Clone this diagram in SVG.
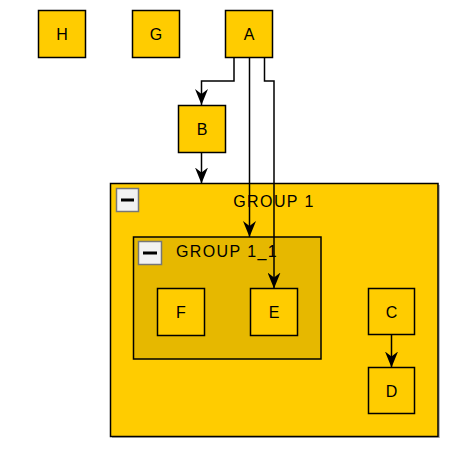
<svg xmlns="http://www.w3.org/2000/svg" width="454" height="453" viewBox="0 0 454 453">
<defs>
<style>
.n{fill:#FFCC00;stroke:#000;stroke-width:1.5}
.g11{fill:#E6B800;stroke:#000;stroke-width:1.5}
.t{font-family:"Liberation Sans",Arial,sans-serif;font-size:16px;fill:#000;text-anchor:middle}
.gt{letter-spacing:1.4px}
.e{fill:none;stroke:#000;stroke-width:1.5}
.btn{fill:#F2F2F2;stroke:#777;stroke-width:1.5}
</style>
<marker id="arrd" viewBox="0 0 13 16" refX="6.5" refY="16" markerWidth="13" markerHeight="16" markerUnits="userSpaceOnUse" orient="0">
<path d="M0 0 L6.5 16 L13 0 L6.5 5 Z" fill="#000"/>
</marker>
</defs>
<rect width="454" height="453" fill="#fff"/>
<g id="group1">
<rect x="112" y="185" width="328" height="253" fill="#bbb"/>
<rect x="110.5" y="183.5" width="327.5" height="253" class="n"/>
<text x="274" y="206.5" class="t gt">GROUP 1</text>
<rect x="116.5" y="188.5" width="22" height="23" class="btn"/>
<line x1="121" y1="200" x2="134" y2="200" stroke="#000" stroke-width="3"/>
</g>
<g id="group1_1">
<rect x="133.5" y="237" width="187.5" height="122" class="g11"/>
<text x="227" y="257" class="t gt">GROUP 1_1</text>
<rect x="138.5" y="241.5" width="23" height="23" class="btn"/>
<line x1="143" y1="253" x2="157" y2="253" stroke="#000" stroke-width="3"/>
</g>
<g id="H"><rect x="38.5" y="10.5" width="47" height="47" class="n"/><text x="62" y="40" class="t">H</text></g>
<g id="G"><rect x="132.5" y="10.5" width="47" height="47" class="n"/><text x="156" y="40" class="t">G</text></g>
<g id="A"><rect x="225.5" y="10.5" width="47" height="47" class="n"/><text x="249" y="40" class="t">A</text></g>
<g id="B"><rect x="178.5" y="105.5" width="47" height="47" class="n"/><text x="202" y="135" class="t">B</text></g>
<g id="F"><rect x="157.5" y="288.5" width="47" height="47" class="n"/><text x="181" y="318" class="t">F</text></g>
<g id="E"><rect x="250.5" y="288.5" width="47" height="47" class="n"/><text x="274" y="318" class="t">E</text></g>
<g id="C"><rect x="368.5" y="288.5" width="46" height="46" class="n"/><text x="391.5" y="318" class="t">C</text></g>
<g id="D"><rect x="368.5" y="367.5" width="46" height="46" class="n"/><text x="391.5" y="397" class="t">D</text></g>
<g id="connectors">
<path d="M234 57.5 V81 H201.5 V105" class="e" marker-end="url(#arrd)"/>
<path d="M249.5 57.5 V237" class="e" marker-end="url(#arrd)"/>
<path d="M264.5 57.5 V81 H274 V288.5" class="e" marker-end="url(#arrd)"/>
<path d="M201.5 152.5 V183.5" class="e" marker-end="url(#arrd)"/>
<path d="M391.5 334.5 V367.5" class="e" marker-end="url(#arrd)"/>
</g>
</svg>
